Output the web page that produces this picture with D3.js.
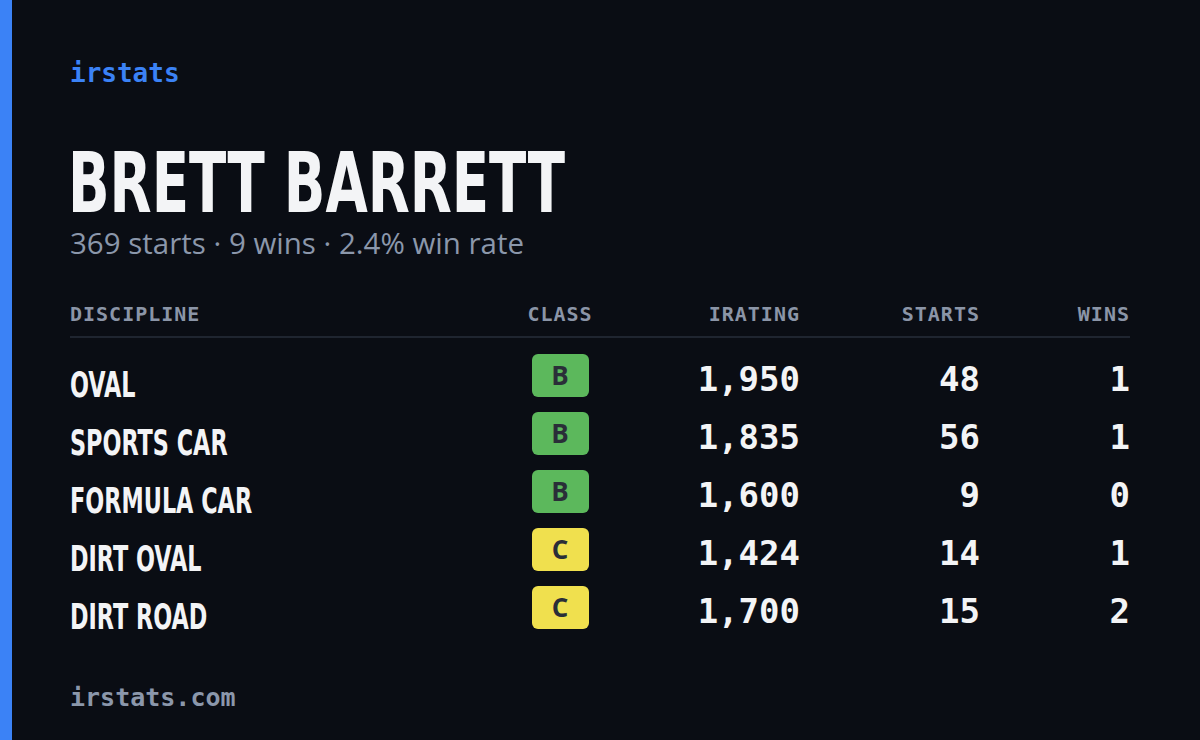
<!DOCTYPE html>
<html><head><meta charset="utf-8">
<script src="https://cdn.jsdelivr.net/npm/d3@7"></script>
<style>html,body{margin:0;padding:0;background:#0a0d14;}</style>
</head><body>
<svg id="c" width="1200" height="740"></svg>
<script>
const disciplines = ["OVAL","SPORTS CAR","FORMULA CAR","DIRT OVAL","DIRT ROAD"];
const classes = ["B","B","B","C","C"];
const iratings = [1950,1835,1600,1424,1700];
const starts = [48,56,9,14,15];
const wins = [1,1,0,1,2];
const headers = ["DISCIPLINE","CLASS","IRATING","STARTS","WINS"];
const driver = "BRETT BARRETT";
const totalStarts = 369, totalWins = 9, winRate = 2.4;

const classColor = {B:"#5cb85c", C:"#f0e04e"};
const svg = d3.select("#c");
svg.append("rect").attr("width",1200).attr("height",740).attr("fill","#0a0d14");
svg.append("rect").attr("width",12).attr("height",740).attr("fill","#3b82f6");

const mono = "'DejaVu Sans Mono', monospace";
const cond = "'Liberation Sans Narrow','DejaVu Sans Condensed',sans-serif";
svg.append("text").attr("x",70).attr("y",82).text("irstats")
  .attr("font-family",mono).attr("font-weight","bold").attr("font-size",26).attr("fill","#3b82f6");
svg.append("text").attr("x",68).attr("y",212).text(driver)
  .attr("font-family",cond).attr("font-weight","bold").attr("font-size",84)
  .attr("fill","#f3f4f6").attr("textLength",497).attr("lengthAdjust","spacingAndGlyphs");
svg.append("text").attr("x",70).attr("y",254)
  .text(`${totalStarts} starts · ${totalWins} wins · ${winRate}% win rate`)
  .attr("font-family","'Open Sans',sans-serif").attr("font-size",29).attr("fill","#8b97ab")
  .attr("textLength",454).attr("lengthAdjust","spacingAndGlyphs");

const x = {DISCIPLINE:70, CLASS:560, IRATING:800, STARTS:980, WINS:1130};
const anchor = {DISCIPLINE:"start", CLASS:"middle", IRATING:"end", STARTS:"end", WINS:"end"};
svg.selectAll("text.h").data(headers).join("text").attr("class","h")
  .attr("x",d=>x[d]).attr("y",321).attr("text-anchor",d=>anchor[d]).text(d=>d)
  .attr("font-family",mono).attr("font-weight","bold").attr("font-size",20)
  .attr("letter-spacing",1).attr("fill","#8b95a7");
svg.append("line").attr("x1",70).attr("x2",1130).attr("y1",337).attr("y2",337)
  .attr("stroke","#1f2530").attr("stroke-width",2);

const y = d3.scaleBand().domain(d3.range(disciplines.length)).range([347,637]);
const fmt = d3.format(",");
const rows = svg.selectAll("g.r").data(disciplines.map((d,i)=>({d,i}))).join("g").attr("class","r")
  .attr("transform",r=>`translate(0,${y(r.i)})`);
rows.append("text").attr("transform","translate(70,50) scale(0.71,1)").text(r=>r.d)
  .attr("font-family",cond).attr("font-weight","bold").attr("font-size",35).attr("fill","#f3f4f6");
rows.append("rect").attr("x",532).attr("y",7).attr("width",57).attr("height",43).attr("rx",6)
  .attr("fill",r=>classColor[classes[r.i]]);
rows.append("text").attr("x",560).attr("y",38).attr("text-anchor","middle").text(r=>classes[r.i])
  .attr("font-family","'Open Sans',sans-serif").attr("font-weight","bold").attr("font-size",26).attr("fill","#2a2e38");
const cols = [["IRATING",r=>fmt(iratings[r.i])],["STARTS",r=>starts[r.i]],["WINS",r=>wins[r.i]]];
cols.forEach(([k,f])=>{
  rows.append("text").attr("x",x[k]).attr("y",44).attr("text-anchor","end").text(f)
    .attr("font-family",mono).attr("font-weight","bold").attr("font-size",34).attr("fill","#f3f4f6");
});
svg.append("text").attr("x",70).attr("y",706).text("irstats.com")
  .attr("font-family",mono).attr("font-weight","bold").attr("font-size",25).attr("fill","#8b97ab");
</script>
</body></html>
